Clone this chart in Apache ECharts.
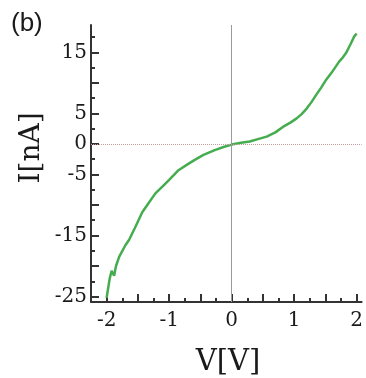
<!DOCTYPE html>
<html>
<head>
<meta charset="utf-8">
<script src="https://cdn.jsdelivr.net/npm/echarts@6/dist/echarts.min.js"></script>
<style>html,body{margin:0;padding:0;background:#fff}#c{width:366px;height:378px}</style>
</head>
<body>
<div id="c"></div>
<script>
const voltage = [-2.0,-1.95,-1.92,-1.88,-1.85,-1.8,-1.7,-1.64,-1.55,-1.43,-1.35,-1.22,-1.1,-1.0,-0.85,-0.7,-0.59,-0.45,-0.27,-0.13,0.0,0.15,0.29,0.42,0.56,0.7,0.82,0.94,1.04,1.12,1.2,1.28,1.35,1.43,1.51,1.6,1.72,1.78,1.83,1.9,1.96,2.0];
const current = [-25.2,-22.0,-20.8,-21.6,-20.0,-18.5,-16.6,-15.7,-13.8,-11.2,-10.0,-8.1,-6.9,-5.9,-4.3,-3.3,-2.6,-1.8,-1.0,-0.5,-0.1,0.2,0.4,0.8,1.2,1.9,2.8,3.5,4.2,4.9,5.8,6.9,8.0,9.2,10.5,11.7,13.5,14.2,14.9,16.3,17.6,18.1];
const xTickLabels = [-2,-1,0,1,2];
const xMajorTicks = [-2,-1.5,-1,-0.5,0,0.5,1,1.5,2];
const xMinorTicks = [-1.75,-1.25,-0.75,-0.25,0.25,0.75,1.25,1.75];
const yTickLabels = [15,5,0,-5,-15,-25];
const yMajorTicks = [15,10,5,0,-5,-10,-15,-20,-25];
const yMinorTicks = [17.5,12.5,7.5,2.5,-2.5,-7.5,-12.5,-17.5,-22.5];

const X_MIN = -2.25, X_MAX = 2.08, Y_MIN = -25.9, Y_MAX = 19.5;
const labelFont = {fontFamily: 'DejaVu Serif', fontSize: 20, color: '#1a1a1a'};
const chart = echarts.init(document.getElementById('c'), null, {renderer: 'canvas'});
const lineC = '#333';

function xAx(ticks, len, withLabel, withLine) {
  return {
    type: 'value', min: X_MIN, max: X_MAX, position: 'bottom',
    axisLine: {show: withLine, onZero: false, lineStyle: {color: lineC, width: 2}},
    axisTick: {show: true, inside: true, length: len, customValues: ticks, lineStyle: {color: lineC, width: 2}},
    axisLabel: withLabel ? Object.assign({show: true, margin: 9, customValues: xTickLabels}, labelFont) : {show: false},
    splitLine: {show: false}
  };
}
function yAx(ticks, len, withLabel, withLine) {
  return {
    type: 'value', min: Y_MIN, max: Y_MAX, position: 'left',
    axisLine: {show: withLine, onZero: false, lineStyle: {color: lineC, width: 2}},
    axisTick: {show: true, inside: true, length: len, customValues: ticks, lineStyle: {color: lineC, width: 2}},
    axisLabel: withLabel ? Object.assign({show: true, margin: 4, customValues: yTickLabels}, labelFont) : {show: false},
    splitLine: {show: false}
  };
}

chart.setOption({
  animation: false,
  grid: {left: 91, right: 0, top: 25, bottom: 76},
  xAxis: [xAx(xMajorTicks, 8, true, true), xAx(xMinorTicks, 4, false, false)],
  yAxis: [yAx(yMajorTicks, 8, true, true), yAx(yMinorTicks, 4, false, false)],
  graphic: [
    {type: 'text', left: 11, top: 11, style: {text: '(b)', font: '26px "Liberation Sans"', fill: '#1a1a1a'}},
    {type: 'text', x: 32, y: 148, rotation: Math.PI / 2,
     style: {text: 'I[nA]', font: '28px "DejaVu Serif"', fill: '#1a1a1a', align: 'center', verticalAlign: 'middle'}},
    {type: 'text', x: 228, y: 362,
     style: {text: 'V[V]', font: '29px "DejaVu Serif"', fill: '#1a1a1a', align: 'center', verticalAlign: 'middle'}}
  ],
  series: [{
    type: 'line', xAxisIndex: 0, yAxisIndex: 0,
    data: voltage.map((v, i) => [v, current[i]]),
    showSymbol: false, smooth: false,
    lineStyle: {color: '#45ad4f', width: 2.5},
    markLine: {
      silent: true, symbol: 'none', label: {show: false},
      data: [
        {xAxis: 0, lineStyle: {color: '#9a9a9a', width: 1, type: 'solid'}},
        {yAxis: 0, lineStyle: {color: '#c49a9a', width: 1, type: 'dotted'}}
      ]
    }
  }]
});
</script>
</body>
</html>
